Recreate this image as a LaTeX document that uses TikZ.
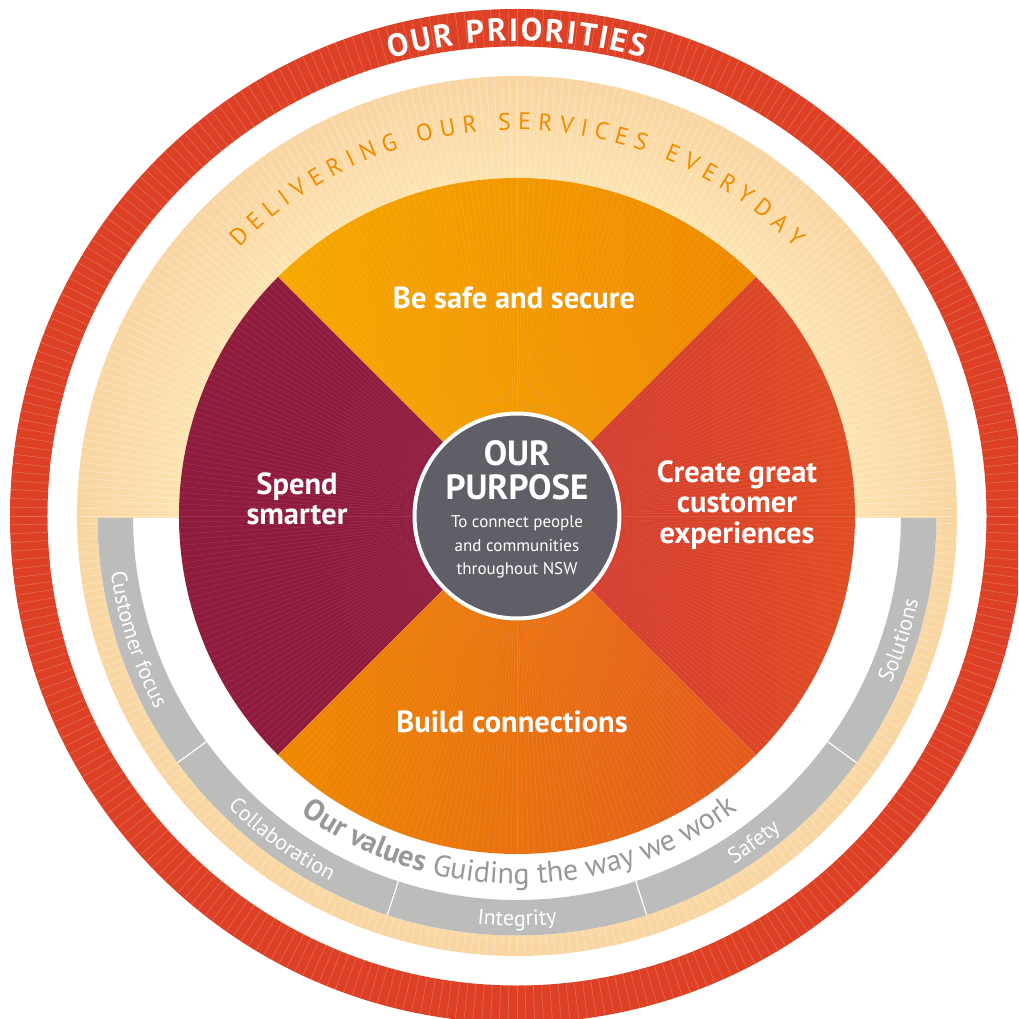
\documentclass[tikz,border=0pt]{standalone}
\usepackage{fontspec}
\setmainfont{PT Sans}
\usetikzlibrary{decorations.text}
\definecolor{ringred}{RGB}{221,64,36}
\definecolor{peachlight}{RGB}{253,230,180}
\definecolor{peachdark}{RGB}{249,213,161}
\definecolor{saffron}{RGB}{246,168,0}
\definecolor{tangerine}{RGB}{239,137,0}
\definecolor{crimson}{RGB}{143,27,61}
\definecolor{vermilion}{RGB}{208,54,50}
\definecolor{flame}{RGB}{226,80,34}
\definecolor{burnt}{RGB}{227,90,30}
\definecolor{valuegrey}{RGB}{188,188,187}
\definecolor{textgrey}{RGB}{152,152,152}
\definecolor{slate}{RGB}{95,96,103}
\definecolor{amber}{RGB}{240,140,0}
\pgfdeclareradialshading{peachglow}{\pgfpointorigin}{color(0bp)=(peachlight); color(18bp)=(peachlight); color(25bp)=(peachdark); color(50bp)=(peachdark)}

\begin{document}
\begin{tikzpicture}[x=1pt, y=1pt,
  stripe/.style={white, opacity=.2, line width=.7pt},
  finestripe/.style={white, opacity=.12, line width=.45pt},
  sectorlabel/.style={text=white, align=center,
    font=\bfseries\fontsize{30.5}{30.5}\selectfont},
  valuelabel/.style={decorate, decoration={text along path,
    text color=white, text align=center,
    text={|\fontsize{22}{22}\selectfont|#1}}}
]
\useasboundingbox (-517,-503) rectangle (501,516);
\clip (-517,-503) rectangle (501,516);

% priorities ring
\fill[ringred, even odd rule] (0,0) circle (507) (0,0) circle (469.5);
\foreach \a in {0,1,...,359}
  \draw[stripe] (\a:470) -- (\a:506.5);

% services disc
\shade[shading=peachglow] (0,0) circle (440);
\foreach \a in {0,1,...,359}
  \draw[stripe, opacity=.32] (\a:339) -- (\a:440);

% values band
\begin{scope}
  \clip (-450,-3) rectangle (450,-450);
  \fill[white] (0,0) circle (419.5);
  \fill[valuegrey, even odd rule] (0,0) circle (419.5) (0,0) circle (384);
\end{scope}
\foreach \a in {216,252,288,324}
  \draw[white, line width=1.2pt] (\a:384) -- (\a:419.5);

% four priorities
\shade[left color=saffron, right color=tangerine]
  (0,0) -- (45:338) arc[start angle=45, end angle=135, radius=338] -- cycle;
\fill[crimson]
  (0,0) -- (135:338) arc[start angle=135, end angle=225, radius=338] -- cycle;
\shade[left color=tangerine, right color=burnt]
  (0,0) -- (225:338) arc[start angle=225, end angle=315, radius=338] -- cycle;
\shade[left color=vermilion, right color=flame]
  (0,0) -- (-45:338) arc[start angle=-45, end angle=45, radius=338] -- cycle;
\foreach \a in {0,1,...,359}
  \draw[finestripe] (\a:106) -- (\a:338);

\node[circle, fill=slate, draw=white, line width=4pt,
      minimum size=205pt, inner sep=0pt] (hub) at (0,0) {};
\node[text=white, align=center, font=\bfseries\fontsize{35}{34}\selectfont]
  (purpose) at (0,46) {OUR\\PURPOSE};
\node[text=white, align=center, font=\fontsize{17}{23.5}\selectfont]
  (mission) at (0,-31) {To connect people\\and communities\\throughout NSW};

\node[sectorlabel] (safe)   at (-3,218)  {Be safe and secure};
\node[sectorlabel] (spend)  at (-220,17) {Spend\\smarter};
\node[sectorlabel] (create) at (220,11)  {Create great\\customer\\experiences};
\node[sectorlabel] (build)  at (-5,-206) {Build connections};

% curved headings
\path[decorate, decoration={text along path, text color=white,
    text={|\bfseries\fontsize{32}{32}\selectfont|OUR PRIORITIES},
    text align=fit to path}]
  (105.5:475) arc[start angle=105.5, end angle=74.5, radius=475];
\path[decorate, decoration={text along path, text color=amber,
    text={|\fontsize{24}{24}\selectfont|DELIVERING OUR SERVICES EVERYDAY},
    text align=fit to path}]
  (136:386) arc[start angle=136, end angle=44, radius=386];
\path[decorate, decoration={text along path, text color=textgrey,
    text={|\bfseries\fontsize{30}{30}\selectfont|Our values|\mdseries\fontsize{30}{30}\selectfont| Guiding the way we work},
    text align=center}]
  (232:368) arc[start angle=232, end angle=309, radius=368];

\path[valuelabel=Customer focus] (180:410) arc[start angle=180, end angle=216, radius=410];
\path[valuelabel=Collaboration]  (216:410) arc[start angle=216, end angle=252, radius=410];
\path[valuelabel=Integrity]      (252:410) arc[start angle=252, end angle=288, radius=410];
\path[valuelabel=Safety]         (288:410) arc[start angle=288, end angle=324, radius=410];
\path[valuelabel=Solutions]      (324:410) arc[start angle=324, end angle=360, radius=410];
\end{tikzpicture}
\end{document}
